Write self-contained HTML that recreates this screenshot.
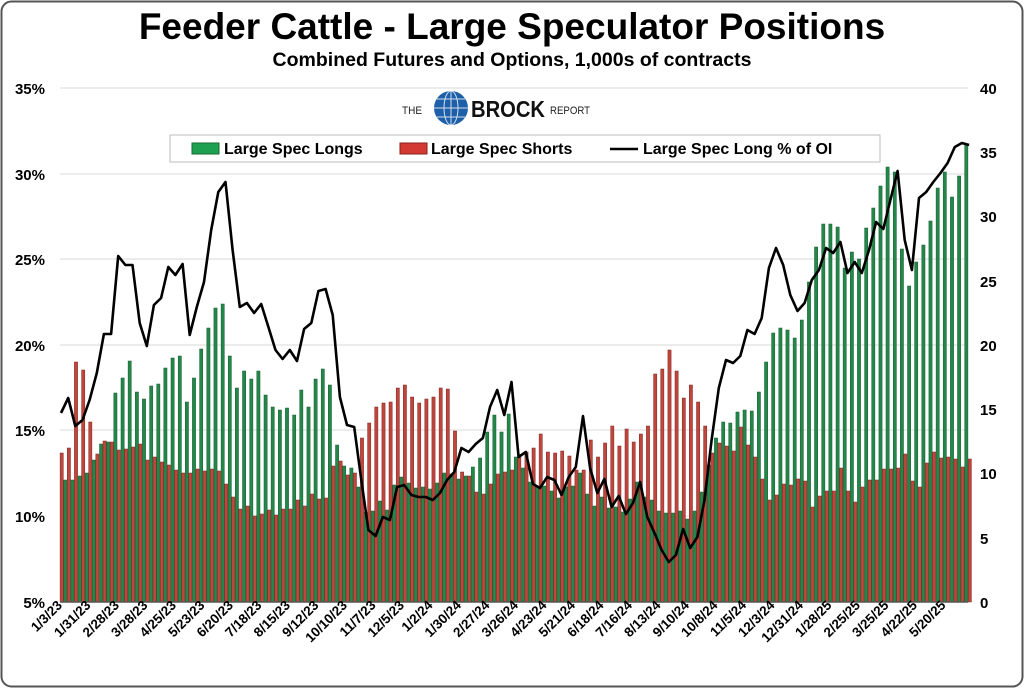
<!DOCTYPE html>
<html><head><meta charset="utf-8"><style>
html,body{margin:0;padding:0;background:#fff}
svg{display:block;font-family:"Liberation Sans",Arial,sans-serif}
</style></head><body>
<svg id="c" width="1024" height="688" viewBox="0 0 1024 688" xmlns="http://www.w3.org/2000/svg">
<rect x="1.5" y="1.5" width="1021" height="685" rx="10" fill="#fff" stroke="#555" stroke-width="2"/>
<text x="512" y="39" text-anchor="middle" font-size="37" font-weight="bold">Feeder Cattle - Large Speculator Positions</text>
<text x="512" y="66" text-anchor="middle" font-size="19.5" font-weight="bold">Combined Futures and Options, 1,000s of contracts</text>
<g stroke="#d9d9d9" stroke-width="1">
<line x1="60" x2="968" y1="88" y2="88"/><line x1="60" x2="968" y1="174" y2="174"/><line x1="60" x2="968" y1="259" y2="259"/><line x1="60" x2="968" y1="345" y2="345"/><line x1="60" x2="968" y1="430" y2="430"/><line x1="60" x2="968" y1="516" y2="516"/>
</g>
<g font-size="15" font-weight="bold" text-anchor="end">
<text x="45" y="94">35%</text><text x="45" y="180">30%</text><text x="45" y="265">25%</text><text x="45" y="351">20%</text><text x="45" y="436">15%</text><text x="45" y="522">10%</text><text x="45" y="608">5%</text>
</g>
<g font-size="15" font-weight="bold" text-anchor="start">
<text x="980" y="94">40</text><text x="980" y="158">35</text><text x="980" y="222">30</text><text x="980" y="287">25</text><text x="980" y="351">20</text><text x="980" y="415">15</text><text x="980" y="479">10</text><text x="980" y="544">5</text><text x="980" y="608">0</text>
</g>
<!-- logo -->
<g>
<text x="402" y="114" font-size="11" fill="#222" textLength="20" lengthAdjust="spacingAndGlyphs">THE</text>
<circle cx="451" cy="108" r="17" fill="#1d5fa8"/>
<g stroke="#fff" stroke-width="1" fill="none" opacity="0.8"><ellipse cx="451" cy="108" rx="7" ry="17"/><line x1="434" y1="108" x2="468" y2="108"/><line x1="451" y1="91" x2="451" y2="125"/><line x1="437" y1="99" x2="465" y2="99"/><line x1="437" y1="117" x2="465" y2="117"/></g>
<text x="471" y="117" font-size="23" font-weight="bold" fill="#111" textLength="74" lengthAdjust="spacingAndGlyphs">BROCK</text>
<text x="550" y="114" font-size="11" fill="#222" textLength="40" lengthAdjust="spacingAndGlyphs">REPORT</text>
</g>
<g id="bars"></g>
<polyline id="ln" fill="none" stroke="#000" stroke-width="2.6" stroke-linejoin="round"/>
<line x1="60" x2="968" y1="602" y2="602" stroke="#555" stroke-width="1.5"/>
<!-- legend -->
<rect x="170" y="135" width="710" height="27" fill="#fff" stroke="#bbb"/>
<rect x="192" y="143" width="27" height="11" fill="#1fa050" stroke="#146b35"/>
<text x="224" y="154" font-size="16" font-weight="bold">Large Spec Longs</text>
<rect x="400" y="143" width="27" height="11" fill="#d23a33" stroke="#8a201c"/>
<text x="431" y="154" font-size="16" font-weight="bold">Large Spec Shorts</text>
<line x1="610" x2="638" y1="149" y2="149" stroke="#000" stroke-width="2.6"/>
<text x="643" y="154" font-size="16" font-weight="bold">Large Spec Long % of OI</text>
<g font-size="13.5" font-weight="bold" text-anchor="end">
<text transform="translate(63,606) rotate(-45)">1/3/23</text>
<text transform="translate(91.5,606) rotate(-45)">1/31/23</text>
<text transform="translate(120,606) rotate(-45)">2/28/23</text>
<text transform="translate(148.5,606) rotate(-45)">3/28/23</text>
<text transform="translate(177,606) rotate(-45)">4/25/23</text>
<text transform="translate(205.5,606) rotate(-45)">5/23/23</text>
<text transform="translate(234,606) rotate(-45)">6/20/23</text>
<text transform="translate(262.5,606) rotate(-45)">7/18/23</text>
<text transform="translate(291,606) rotate(-45)">8/15/23</text>
<text transform="translate(319.5,606) rotate(-45)">9/12/23</text>
<text transform="translate(348,606) rotate(-45)">10/10/23</text>
<text transform="translate(376.5,606) rotate(-45)">11/7/23</text>
<text transform="translate(405,606) rotate(-45)">12/5/23</text>
<text transform="translate(433.5,606) rotate(-45)">1/2/24</text>
<text transform="translate(462,606) rotate(-45)">1/30/24</text>
<text transform="translate(490.5,606) rotate(-45)">2/27/24</text>
<text transform="translate(519,606) rotate(-45)">3/26/24</text>
<text transform="translate(547.5,606) rotate(-45)">4/23/24</text>
<text transform="translate(576,606) rotate(-45)">5/21/24</text>
<text transform="translate(604.5,606) rotate(-45)">6/18/24</text>
<text transform="translate(633,606) rotate(-45)">7/16/24</text>
<text transform="translate(661.5,606) rotate(-45)">8/13/24</text>
<text transform="translate(690,606) rotate(-45)">9/10/24</text>
<text transform="translate(718.5,606) rotate(-45)">10/8/24</text>
<text transform="translate(747,606) rotate(-45)">11/5/24</text>
<text transform="translate(775.5,606) rotate(-45)">12/3/24</text>
<text transform="translate(804,606) rotate(-45)">12/31/24</text>
<text transform="translate(832.5,606) rotate(-45)">1/28/25</text>
<text transform="translate(861,606) rotate(-45)">2/25/25</text>
<text transform="translate(889.5,606) rotate(-45)">3/25/25</text>
<text transform="translate(918,606) rotate(-45)">4/22/25</text>
<text transform="translate(946.5,606) rotate(-45)">5/20/25</text>
</g>
</svg>
<script>
var G=[null,480,480,476,473,460,444,442,393,378,361,392,399,386,384,368,358,356,402,378,349,328,308,304,356,388,371,379,371,395,407,410,408,415,390,407,379,369,385,445,466,468,487,512,
511,501,510,485,477,483,488,487,489,483,473,474,479,476,467,458,432,415,432,414,457,468,482,487,486,491,498,487,486,473,494,506,497,508,507,512,499,482,497,500,511,513,513,511,519,511,
492,465,438,422,423,412,410,411,392,362,333,328,330,338,320,282,247,224,224,227,268,252,259,228,208,186,167,172,249,286,262,245,221,188,172,197,176,145];
var R=[453,448,362,370,422,454,441,442,450,449,447,444,460,457,462,465,470,473,473,469,471,469,471,484,497,509,506,516,514,510,515,509,509,500,506,494,499,498,466,461,475,473,438,423,407,
403,402,388,385,397,403,399,397,388,389,431,
472,476,492,494,484,474,472,470,457,452,448,434,452,453,451,456,470,470,440,457,443,426,446,429,442,434,426,374,369,350,371,398,
385,402,426,453,443,446,451,427,445,457,479,500,495,484,485,479,481,507,496,491,491,468,491,502,487,480,480,469,469,468,454,481,487,463,452,458,457,459,467,459];
var L=[413,398,426,420,400,373,334,334,256,265,265,323,346,305,298,267,275,264,335,307,282,230,192,182,250,307,303,313,304,327,350,359,350,361,329,323,291,289,315,397,425,427,
480,530,536,517,520,487,485,495,497,497,500,493,480,472,448,452,444,438,407,390,415,382,457,452,484,488,477,480,495,477,467,416,468,493,479,507,496,514,503,482,517,533,550,562,555,529,
548,537,500,440,388,360,363,356,330,334,318,268,248,265,295,311,303,280,270,248,253,242,273,262,273,250,222,229,200,171,240,270,198,192,182,173,163,147,143,145];
var b=document.getElementById("bars"),s="";
for(var j=0;j<128;j++){
 if(G[j]!=null){s+='<rect x="'+(56.6+7.15*j).toFixed(1)+'" y="'+G[j]+'" width="3.2" height="'+(602-G[j])+'" fill="#23874a" stroke="#145a2e" stroke-width="0.5"/>';}
 s+='<rect x="'+(60.1+7.15*j).toFixed(1)+'" y="'+R[j]+'" width="3.2" height="'+(602-R[j])+'" fill="#c0453d" stroke="#7d2420" stroke-width="0.5"/>';
}
b.innerHTML=s;
var p=[];for(var j=0;j<128;j++)p.push((61+7.15*j).toFixed(1)+","+L[j]);
document.getElementById("ln").setAttribute("points",p.join(" "));
</script>
</body></html>
